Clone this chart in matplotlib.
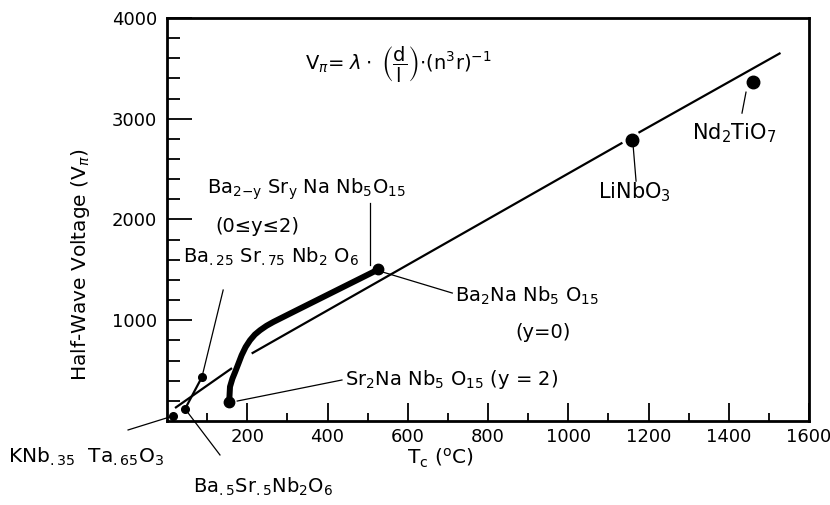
import matplotlib
matplotlib.use('Agg')
import matplotlib.pyplot as plt

plt.rcParams['font.family'] = ['DejaVu Sans']
plt.rcParams['mathtext.fontset'] = 'dejavusans'

# ---------------- data ----------------
# isolated crystals (Tc in degC, half-wave voltage in V)
small_tc = [15, 45, 87]          # KNb.35Ta.65O3, Ba.5Sr.5Nb2O6, Ba.25Sr.75Nb2O6
small_v = [50, 120, 435]
big_tc = [1160, 1461]            # LiNbO3, Nd2TiO7
big_v = [2792, 3366]

# Ba(2-y)Sr(y)NaNb5O15 series (thick curve), y=2 end -> y=0 end
bsnn_tc = [155, 157, 163, 170, 178, 186, 196, 207, 219, 232, 248, 265, 323, 423, 506, 527]
bsnn_v = [191, 340, 420, 488, 570, 653, 735, 802, 858, 901, 945, 983, 1099, 1298, 1463, 1505]
end_tc = [155, 527]
end_v = [191, 1505]

# SBN connection line
sbn_tc = [45, 87]
sbn_v = [120, 435]

# trend line segments
trend_low_tc = [20, 162]
trend_low_v = [129, 525]
trend_mid_tc = [211, 1135]
trend_mid_v = [670, 2762]
trend_high_tc = [1175, 1529]
trend_high_v = [2861, 3653]

# labels
labels_text = [
    r'Ba$_{2\mathrm{-y}}$ Sr$_\mathrm{y}$ Na Nb$_5$O$_{15}$',
    '(0≤y≤2)',
    r'Ba$_{\mathrm{.25}}$ Sr$_{\mathrm{.75}}$ Nb$_2$ O$_6$',
    r'Ba$_2$Na Nb$_5$ O$_{15}$',
    '(y=0)',
    r'Sr$_2$Na Nb$_5$ O$_{15}$ (y = 2)',
    r'KNb$_{\mathrm{.35}}$  Ta$_{\mathrm{.65}}$O$_3$',
    r'Ba$_{\mathrm{.5}}$Sr$_{\mathrm{.5}}$Nb$_2$O$_6$',
    r'LiNbO$_3$',
    r'Nd$_2$TiO$_7$',
]
labels_tc = [100, 120, 40, 718, 867, 444, -396, 65, 1074, 1308]
labels_v = [2302, 1935, 1627, 1240, 883, 407, -357, -655, 2272, 2857]
labels_size = [14, 14, 14, 14, 14, 14, 14.5, 14, 15, 15]

# leader lines: (tc0, tc1), (v0, v1)
leader_tc = [(-97, 15), (45, 132), (87, 140), (506, 506), (538, 711),
             (175, 436), (1162, 1169), (1443, 1433)]
leader_v = [(-89, 50), (120, -337), (435, 1300), (2163, 1548), (1478, 1270),
            (198, 407), (2718, 2381), (3264, 3056)]

x_major = [200, 400, 600, 800, 1000, 1200, 1400, 1600]
x_minor = [100, 300, 500, 700, 900, 1100, 1300, 1500]
y_major = [1000, 2000, 3000, 4000]
y_minor = [200, 400, 600, 800, 1200, 1400, 1600, 1800, 2200, 2400, 2600,
           2800, 3200, 3400, 3600, 3800]

# ---------------- figure ----------------
fig = plt.figure(figsize=(8.3, 5.05), dpi=100)
ax = fig.add_axes([167 / 830, 84 / 505, 642 / 830, 403 / 505])
ax.set_xlim(0, 1600)
ax.set_ylim(0, 4000)

k = 'black'
ax.plot(trend_low_tc, trend_low_v, color=k, lw=1.6, solid_capstyle='butt')
ax.plot(trend_mid_tc, trend_mid_v, color=k, lw=1.6, solid_capstyle='butt')
ax.plot(trend_high_tc, trend_high_v, color=k, lw=1.6, solid_capstyle='butt')
ax.plot(bsnn_tc, bsnn_v, color=k, lw=4.3, solid_capstyle='round',
        solid_joinstyle='round')
ax.plot(end_tc, end_v, 'o', color=k, ms=7.5)
ax.plot(sbn_tc, sbn_v, color=k, lw=1.6)
ax.plot(small_tc, small_v, 'o', color=k, ms=5.5, clip_on=False)
ax.plot(big_tc, big_v, 'o', color=k, ms=9)

for (t0, t1), (v0, v1) in zip(leader_tc, leader_v):
    ax.plot([t0, t1], [v0, v1], color=k, lw=0.9, clip_on=False)

for s, t, v, fs in zip(labels_text, labels_tc, labels_v, labels_size):
    ax.text(t, v, s, fontsize=fs, ha='left', va='center', clip_on=False)

ax.text(344, 3532,
        r'$\mathrm{V}_{\pi}$= $\lambda\cdot$ $\left(\dfrac{\mathrm{d}}{\mathrm{l}}\right)$$\cdot$(n$^3$r)$^{-1}$',
        fontsize=14, ha='left', va='center')

# axes styling
for sp in ax.spines.values():
    sp.set_linewidth(2)
ax.set_xticks(x_major)
ax.set_xticks(x_minor, minor=True)
ax.set_yticks(y_major)
ax.set_yticks(y_minor, minor=True)
ax.set_xticklabels([str(v) for v in x_major])
ax.set_yticklabels([str(v) for v in y_major])
ax.tick_params(axis='x', which='major', direction='in', length=13, width=1.3,
               labelsize=13, pad=5)
ax.tick_params(axis='x', which='minor', direction='in', length=6, width=1.3)
ax.tick_params(axis='y', which='major', direction='in', length=18, width=1.3,
               labelsize=13, pad=7)
ax.tick_params(axis='y', which='minor', direction='in', length=9, width=1.3)

fig.text(80 / 830, 1 - 265 / 505, r'Half-Wave Voltage (V$_\pi$)', rotation=90,
         fontsize=14.5, ha='center', va='center')
fig.text(440 / 830, 1 - 458 / 505, r'T$_\mathrm{c}$ ($^\mathrm{o}$C)',
         fontsize=14.5, ha='center', va='center')

fig.savefig('out.png', dpi=100)
